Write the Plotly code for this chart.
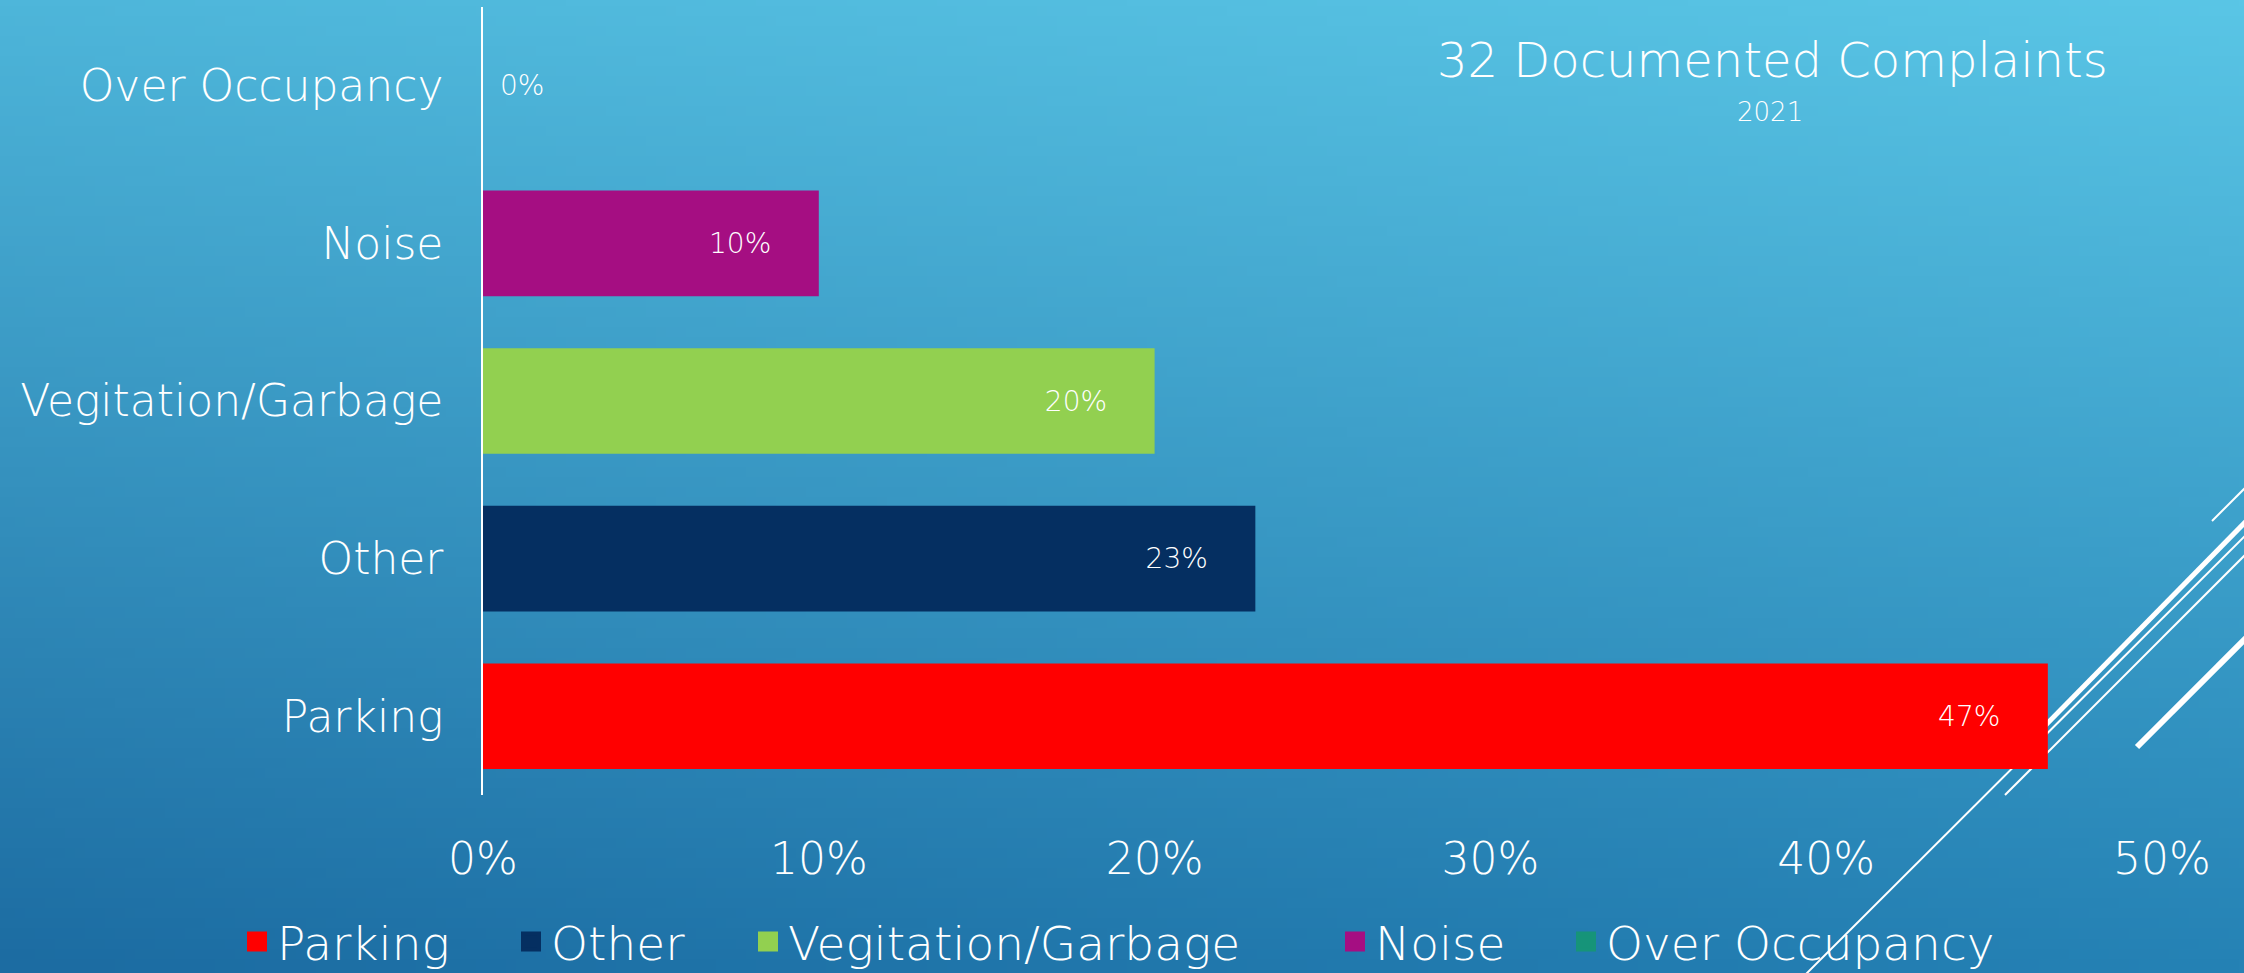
import base64, struct, zlib
import numpy as np
import plotly.graph_objects as go

# ---------------- data ----------------
categories = ["Parking", "Other", "Vegitation/Garbage", "Noise", "Over Occupancy"]
shares = [0.466, 0.23, 0.20, 0.10, 0.0]
bar_colors = ["#FF0000", "#052F61", "#92D050", "#A50E82", "#169479"]
x_ticks = [0, 0.1, 0.2, 0.3, 0.4, 0.5]
title_text = "32 Documented Complaints"
subtitle_text = "2021"

# ---------------- geometry ----------------
W, H = 2244, 973
ML, MR, MT, MB = 483, 82, 7, 178
PW, PH = W - ML - MR, H - MT - MB

def px(xp):
    return (xp - ML) / PW

def py(yp):
    return (H - MB - yp) / PH

FONT = "DejaVu Sans"
WT = 200

# ---------------- gradient background as inline PNG ----------------
def gradient_png(w, h, tl, tr, bl, br):
    u = np.linspace(0, 1, w)[None, :, None]
    v = np.linspace(0, 1, h)[:, None, None]
    tl, tr, bl, br = [np.array(c, float)[None, None, :] for c in (tl, tr, bl, br)]
    img = (1 - v) * ((1 - u) * tl + u * tr) + v * ((1 - u) * bl + u * br)
    img = np.clip(img, 0, 255).astype(np.uint8)
    raw = b"".join(b"\x00" + img[r].tobytes() for r in range(h))
    def chunk(t, d):
        c = struct.pack(">I", len(d)) + t + d
        return c + struct.pack(">I", zlib.crc32(t + d) & 0xFFFFFFFF)
    data = b"\x89PNG\r\n\x1a\n" + chunk(b"IHDR", struct.pack(">IIBBBBB", w, h, 8, 2, 0, 0, 0)) \
        + chunk(b"IDAT", zlib.compress(raw, 9)) + chunk(b"IEND", b"")
    return "data:image/png;base64," + base64.b64encode(data).decode()

bg = gradient_png(224, 97, (78, 182, 218), (90, 198, 230), (28, 108, 162), (37, 130, 181))

fig = go.Figure()

# legend swatch centres (px) for the separate legend boxes
legend_centres = [260, 534, 771, 1358, 1589]
legend_keys = ["legend", "legend2", "legend3", "legend4", "legend5"]

for cat, val, col, lk in zip(categories, shares, bar_colors, legend_keys):
    fig.add_trace(go.Bar(
        x=[val], y=[cat], orientation="h", name=cat,
        marker=dict(color=col, line=dict(width=0)),
        texttemplate=("%{x:.0%}" + "\u00a0" * 5) if val > 0 else ("\u2002%{x:.0%}"),
        textposition="inside" if val > 0 else "outside",
        insidetextanchor="end",
        textangle=0,
        textfont=dict(family=FONT, size=28, color="white", weight=WT),
        outsidetextfont=dict(family=FONT, size=28, color="white", weight=WT),
        cliponaxis=False,
        showlegend=False,
    ))
    fig.add_trace(go.Scatter(
        x=[None], y=[None], mode="markers", name=cat,
        marker=dict(symbol="square", size=16, color=col, line=dict(color=col, width=4)),
        showlegend=True, legend=lk,
    ))

# decorative slide lines (bottom-right)
deco = [
    ((2212, 521), (2270, 463), 2),
    ((2030, 741), (2270, 497), 5),
    ((1790, 990), (2270, 511), 2),
    ((2005, 795), (2270, 530), 2),
    ((2137, 747), (2270, 614), 6),
]
for (x0, y0), (x1, y1), w in deco:
    fig.add_shape(type="line", xref="paper", yref="paper",
                  x0=px(x0), y0=py(y0), x1=px(x1), y1=py(y1),
                  line=dict(color="white", width=w), layer="below")

fig.add_layout_image(dict(
    source=bg, xref="paper", yref="paper",
    x=px(0), y=py(0), sizex=W / PW, sizey=H / PH,
    xanchor="left", yanchor="top", sizing="stretch", layer="below",
))

fig.add_annotation(text=title_text, xref="paper", yref="paper",
                   x=px(1772), y=py(60), xanchor="center", yanchor="middle",
                   showarrow=False,
                   font=dict(family=FONT, size=48, color="white", weight=WT))
fig.add_annotation(text=subtitle_text, xref="paper", yref="paper",
                   x=px(1770), y=py(112), xanchor="center", yanchor="middle",
                   showarrow=False,
                   font=dict(family=FONT, size=26, color="white", weight=WT))

legend_style = dict(orientation="h", yanchor="middle", xanchor="left",
                    font=dict(family=FONT, size=47, color="white", weight=WT),
                    bgcolor="rgba(0,0,0,0)", itemwidth=30)
legends = {}
for lk, cx in zip(legend_keys, legend_centres):
    legends[lk] = dict(legend_style, x=px(cx - 23), y=py(942))

fig.update_layout(
    width=W, height=H,
    margin=dict(l=ML, r=MR, t=MT, b=MB, autoexpand=False),
    paper_bgcolor="#3A9DCA",
    plot_bgcolor="rgba(0,0,0,0)",
    barmode="overlay",
    bargap=0.33,
    font=dict(family=FONT, color="white", weight=WT),
    xaxis=dict(range=[0, 0.5], tickvals=x_ticks, tickformat=".0%",
               showgrid=False, zeroline=False, showline=False, ticks="",
               tickfont=dict(family=FONT, size=44, color="white", weight=WT),
               ticklabelstandoff=34, fixedrange=True),
    yaxis=dict(categoryorder="array", categoryarray=categories,
               showgrid=False, zeroline=False, showline=True,
               linecolor="white", linewidth=1.5, ticks="",
               tickfont=dict(family=FONT, size=44, color="white", weight=WT),
               ticklabelstandoff=29, fixedrange=True),
    **legends,
)

fig.write_html("out.html", config={"displayModeBar": False},
               post_script="document.body.style.margin='0';document.body.style.overflow='hidden';")
